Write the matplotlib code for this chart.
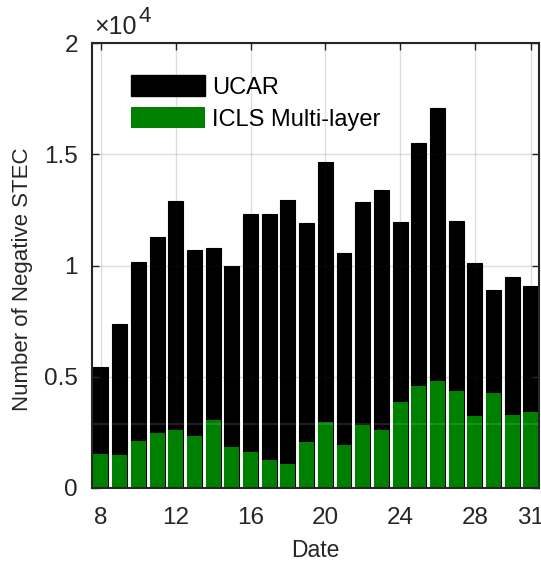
import matplotlib
matplotlib.use("Agg")
import matplotlib.pyplot as plt
from matplotlib.ticker import FuncFormatter, FixedLocator
from matplotlib.patches import Patch

plt.rcParams['font.family'] = ['Liberation Sans', 'DejaVu Sans']

dates = list(range(8, 32))
ucar = [5460, 7380, 10170, 11270, 12890, 10700, 10770, 9990, 12300, 12300, 12950, 11910,
        14640, 10560, 12870, 13410, 11970, 15510, 17070, 11990, 10100, 8910, 9480, 9090]
icls = [1530, 1490, 2120, 2460, 2610, 2340, 3060, 1830, 1640, 1260, 1070, 2060,
        2980, 1940, 2840, 2610, 3880, 4580, 4790, 4340, 3240, 4250, 3290, 3420]
xticks = [8, 12, 16, 20, 24, 28, 31]
yticks = [0, 5000, 10000, 15000, 20000]
labels = ['UCAR', 'ICLS Multi-layer']

W, H = 541, 563
fig = plt.figure(figsize=(W / 100, H / 100), dpi=100)
ax = fig.add_axes([92 / W, (H - 488) / H, (539 - 92) / W, (488 - 43) / H])

dark = (0.15, 0.15, 0.15)
green = (0, 0.5, 0)
ax.bar(dates, ucar, width=0.8, color='black', edgecolor='black', linewidth=0.8, zorder=2)
ax.bar(dates, icls, width=0.8, color=green, edgecolor='none', linewidth=0, zorder=3)
ax.axhline(2870, color='white', alpha=0.12, lw=1.5, zorder=4)

ax.set_xlim(7.52, 31.43)
ax.set_ylim(0, 20000)
ax.xaxis.set_major_locator(FixedLocator(xticks))
ax.yaxis.set_major_locator(FixedLocator(yticks))
ax.yaxis.set_major_formatter(FuncFormatter(lambda v, p: '%g' % (v / 1e4)))

ax.set_axisbelow(False)
ax.grid(True, color=dark, alpha=0.15, linewidth=1.0, zorder=5)

ax.tick_params(direction='in', length=5, width=1.0, colors=dark, labelsize=17.5,
               top=True, right=True)
ax.tick_params(axis='x', pad=14)
ax.tick_params(axis='y', pad=10)
for s in ax.spines.values():
    s.set_color(dark)
    s.set_linewidth(1.5)
    s.set_zorder(6)

ax.set_xlabel('Date', fontsize=16.5, color=dark, labelpad=7)
ax.set_ylabel('Number of Negative STEC', fontsize=16, color=dark)
ax.yaxis.set_label_coords(-0.132, 0.47)

ax.text(0.004, 1.008, '\u00d710', transform=ax.transAxes, fontsize=18, color=dark,
        ha='left', va='bottom')
ax.text(0.103, 1.035, '4', transform=ax.transAxes, fontsize=16, color=dark,
        ha='left', va='bottom')

handles = [Patch(facecolor='black', edgecolor='black'), Patch(facecolor=green, edgecolor='none')]
leg = ax.legend(handles, labels, loc='upper left', bbox_to_anchor=(0.087, 0.928), frameon=False,
                fontsize=17, handlelength=3.13, handleheight=1.0, handletextpad=0.3,
                labelspacing=0.35, borderaxespad=0, borderpad=0)
for t in leg.get_texts():
    t.set_color('black')
leg.set_zorder(10)

fig.savefig('out.png', dpi=100)
